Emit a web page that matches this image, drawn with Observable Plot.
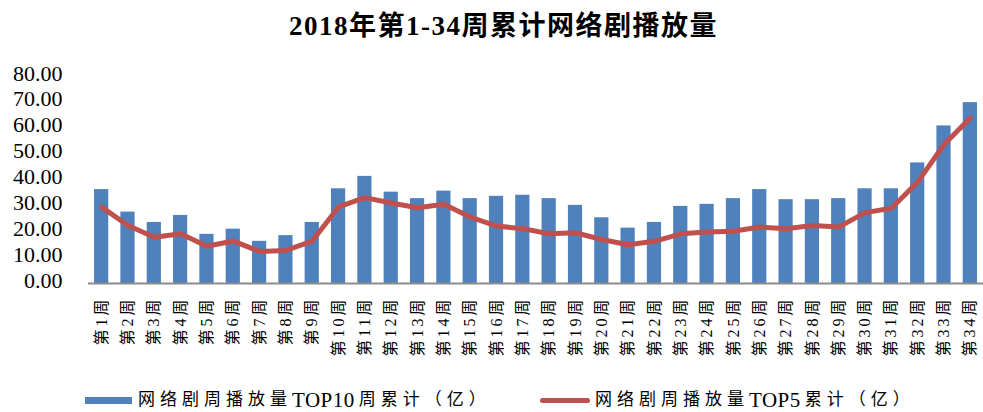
<!DOCTYPE html>
<html>
<head>
<meta charset="utf-8">
<script src="https://cdn.jsdelivr.net/npm/d3@7"></script>
<script src="https://cdn.jsdelivr.net/npm/@observablehq/plot@0.6"></script>
<style>
  html, body { margin: 0; padding: 0; background: #fff; }
  #wrap { position: relative; width: 983px; height: 412px; overflow: hidden; font-family: "Liberation Serif", "Noto Sans CJK SC", serif; }
  #title { position: absolute; left: 12px; top: 8px; width: 983px; text-align: center; font-size: 27px; font-weight: bold; letter-spacing: 1.5px; color: #000; line-height: 36px; }
  #chart { position: absolute; left: 0; top: 50px; }
  #legend { position: absolute; top: 389px; left: 0; width: 983px; height: 22px; }
  .item { position: absolute; top: 0; height: 22px; line-height: 22px; display: flex; align-items: center; font-size: 17px; letter-spacing: 5px; color: #000; white-space: nowrap; }
  .item .lat { font-size: 21px; letter-spacing: 0.5px; margin-right: 4px; }
  .sw-bar { width: 47px; height: 7px; background: #4F81BD; margin-right: 6px; }
  .sw-line { width: 50px; height: 5px; background: #C0504D; border-radius: 3px; margin-right: 5px; }
</style>
</head>
<body>
<div id="wrap">
  <div id="title">2018年第1-34周累计网络剧播放量</div>
  <div id="chart"></div>
  <div id="legend"></div>
</div>
<script>
const weeks = Array.from({length: 34}, (_, i) => `第${i + 1}周`);
const top10 = [36.3, 27.6, 23.6, 26.3, 19.0, 21.0, 16.3, 18.5, 23.6, 36.6,
               41.4, 35.3, 32.8, 35.7, 32.8, 33.7, 34.1, 32.8, 30.2, 25.4,
               21.4, 23.6, 29.8, 30.6, 32.8, 36.3, 32.4, 32.4, 32.8, 36.6,
               36.6, 46.6, 60.9, 69.9];
const top5 = [29.5, 22.4, 17.9, 19.2, 14.4, 16.4, 12.4, 12.8, 16.4, 29.6,
              33.2, 31.1, 29.3, 30.6, 25.7, 22.2, 21.2, 19.2, 19.6, 17.0,
              15.0, 16.3, 19.2, 19.9, 20.2, 21.8, 21.2, 22.4, 21.8, 27.4,
              29.1, 39.2, 53.7, 64.0];
const yTicks = [0, 10, 20, 30, 40, 50, 60, 70, 80];
const seriesNames = ["网络剧周播放量TOP10周累计（亿）", "网络剧周播放量TOP5累计（亿）"];

const data = weeks.map((w, i) => ({week: w, top10: top10[i], top5: top5[i]}));

const chart = Plot.plot({
  width: 983,
  height: 330,
  marginLeft: 88,
  marginRight: 0,
  marginTop: 26,
  marginBottom: 97,
  style: {fontFamily: '"Liberation Serif", "Noto Sans CJK SC", serif', color: "#000", background: "#fff"},
  x: {type: "band", domain: weeks, paddingInner: 0.46, paddingOuter: 0.23, round: false},
  y: {domain: [0, 80]},
  marks: [
    Plot.barY(data, {x: "week", y: "top10", fill: "#4F81BD"}),
    Plot.ruleY([0], {stroke: "#8c8c8c", strokeWidth: 2}),
    Plot.lineY(data, {x: "week", y: "top5", stroke: "#C0504D", strokeWidth: 5, strokeLinejoin: "round", strokeLinecap: "round"}),
    Plot.axisY({ticks: yTicks, tickFormat: d => d.toFixed(2), tickSize: 0, tickPadding: 26, fontSize: 22, dy: -3, label: null}),
    Plot.axisX({tickSize: 0, tickPadding: 13, tickRotate: -90, fontSize: 16, label: null})
  ]
});
document.getElementById("chart").appendChild(chart);
d3.select(chart).selectAll('[aria-label="x-axis tick label"] text').attr("letter-spacing", 3);

const legend = document.getElementById("legend");
const items = [
  {cls: "sw-bar", left: 85, text: seriesNames[0]},
  {cls: "sw-line", left: 540, text: seriesNames[1]}
];
for (const it of items) {
  const d = document.createElement("div");
  d.className = "item";
  d.style.left = it.left + "px";
  const s = document.createElement("span");
  s.className = it.cls;
  d.appendChild(s);
  for (const part of it.text.match(/[A-Za-z0-9]+|[^A-Za-z0-9]+/g)) {
    const t = document.createElement("span");
    t.textContent = part;
    if (/^[A-Za-z0-9]+$/.test(part)) t.className = "lat";
    d.appendChild(t);
  }
  legend.appendChild(d);
}
</script>
</body>
</html>
